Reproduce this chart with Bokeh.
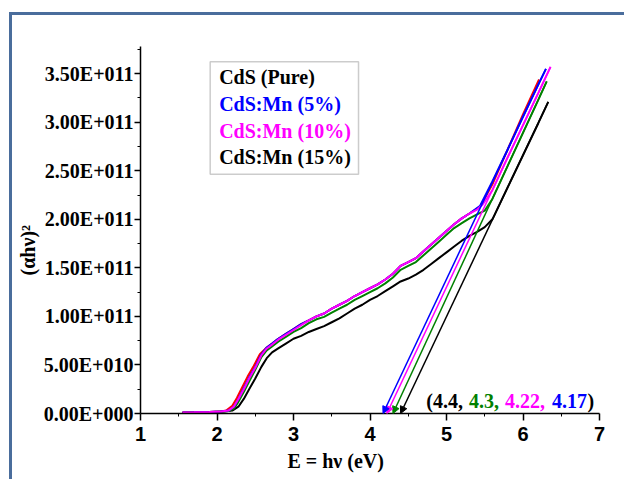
from bokeh.plotting import figure
from bokeh.models import (FixedTicker, Range1d, Label, BoxAnnotation, Arrow,
                          NormalHead, ColumnDataSource, Title)
from bokeh.embed import file_html
from bokeh.resources import INLINE

# ---------------- data (values in units of 1e11) ----------------
E_mag = [1.55, 1.7, 1.9, 2.05, 2.15, 2.22, 2.28, 2.35, 2.42, 2.5, 2.58, 2.65, 2.72, 2.8, 2.9,
         3.0, 3.1, 3.2, 3.3, 3.4, 3.5, 3.6, 3.7, 3.8, 3.9, 4.0, 4.1, 4.2, 4.3, 4.4, 4.5,
         4.6, 4.7, 4.8, 4.9, 5.0, 5.1, 5.2, 5.3, 5.4, 5.47, 5.6, 5.8, 6.0, 6.2, 6.36]
v_mag = [0.01, 0.012, 0.015, 0.02, 0.03, 0.07, 0.15, 0.25, 0.36, 0.47, 0.60, 0.67, 0.71, 0.76, 0.81,
         0.86, 0.91, 0.96, 1.00, 1.03, 1.08, 1.12, 1.16, 1.21, 1.25, 1.29, 1.33, 1.38, 1.44, 1.52, 1.56,
         1.60, 1.67, 1.74, 1.81, 1.88, 1.95, 2.01, 2.06, 2.10, 2.15, 2.30, 2.64, 2.97, 3.30, 3.57]

E_blue = [1.55, 1.7, 1.9, 2.05, 2.15, 2.22, 2.28, 2.35, 2.42, 2.5, 2.58, 2.65, 2.72, 2.8, 2.9,
          3.0, 3.1, 3.2, 3.3, 3.4, 3.5, 3.6, 3.7, 3.8, 3.9, 4.0, 4.1, 4.2, 4.3, 4.4, 4.5,
          4.6, 4.7, 4.8, 4.9, 5.0, 5.1, 5.2, 5.3, 5.44, 5.6, 5.8, 6.0, 6.2, 6.30]
v_blue = [0.01, 0.012, 0.015, 0.02, 0.03, 0.07, 0.15, 0.26, 0.37, 0.48, 0.61, 0.68, 0.72, 0.77, 0.82,
          0.87, 0.92, 0.96, 1.00, 1.03, 1.08, 1.12, 1.16, 1.21, 1.25, 1.29, 1.33, 1.38, 1.44, 1.52, 1.56,
          1.60, 1.67, 1.74, 1.81, 1.88, 1.95, 2.01, 2.06, 2.14, 2.39, 2.72, 3.06, 3.39, 3.55]

E_red = [1.55, 1.7, 1.9, 2.05, 2.12, 2.2, 2.26, 2.33, 2.4, 2.48, 2.56, 2.65, 2.72, 2.8, 2.9,
         3.0, 3.1, 3.2, 3.3, 3.4, 3.5, 3.6, 3.7, 3.8, 3.9, 4.0, 4.1, 4.2, 4.3, 4.4, 4.5,
         4.6, 4.7, 4.8, 4.9, 5.0, 5.1, 5.2, 5.3, 5.44, 5.6, 5.8, 6.0, 6.21]
v_red = [0.01, 0.012, 0.015, 0.02, 0.03, 0.08, 0.16, 0.27, 0.38, 0.49, 0.61, 0.68, 0.72, 0.77, 0.82,
         0.87, 0.92, 0.96, 1.00, 1.03, 1.08, 1.12, 1.16, 1.21, 1.25, 1.29, 1.33, 1.38, 1.44, 1.52, 1.56,
         1.60, 1.67, 1.74, 1.81, 1.88, 1.95, 2.01, 2.06, 2.13, 2.36, 2.72, 3.08, 3.44]

E_green = [1.55, 1.7, 1.9, 2.05, 2.15, 2.22, 2.28, 2.35, 2.42, 2.5, 2.58, 2.65, 2.72, 2.8, 2.9,
           3.0, 3.1, 3.2, 3.3, 3.4, 3.5, 3.6, 3.7, 3.8, 3.9, 4.0, 4.1, 4.2, 4.3, 4.4, 4.5,
           4.6, 4.7, 4.8, 4.9, 5.0, 5.1, 5.2, 5.3, 5.4, 5.5, 5.6, 5.8, 6.0, 6.2, 6.31]
v_green = [0.01, 0.012, 0.015, 0.02, 0.025, 0.05, 0.12, 0.22, 0.33, 0.45, 0.58, 0.65, 0.69, 0.74, 0.79,
           0.84, 0.88, 0.93, 0.97, 0.995, 1.04, 1.08, 1.12, 1.17, 1.21, 1.25, 1.29, 1.34, 1.40, 1.48, 1.52,
           1.56, 1.63, 1.70, 1.77, 1.84, 1.91, 1.96, 2.01, 2.05, 2.09, 2.21, 2.55, 2.89, 3.23, 3.42]

E_black = [1.55, 1.9, 2.1, 2.2, 2.28, 2.35, 2.42, 2.5, 2.58, 2.65, 2.72, 2.8, 2.9,
           3.0, 3.1, 3.2, 3.3, 3.4, 3.5, 3.6, 3.7, 3.8, 3.9, 4.0, 4.1, 4.2, 4.3, 4.4, 4.5,
           4.6, 4.7, 4.8, 4.9, 5.0, 5.1, 5.2, 5.3, 5.4, 5.5, 5.6, 5.8, 6.0, 6.2, 6.33]
v_black = [0.008, 0.012, 0.02, 0.03, 0.07, 0.15, 0.25, 0.36, 0.48, 0.57, 0.63, 0.67, 0.72,
           0.77, 0.80, 0.84, 0.87, 0.90, 0.94, 0.98, 1.03, 1.08, 1.12, 1.17, 1.21, 1.26, 1.31, 1.36, 1.39,
           1.43, 1.48, 1.54, 1.60, 1.66, 1.72, 1.78, 1.83, 1.87, 1.92, 2.00, 2.33, 2.66, 2.99, 3.21]

# linear fits: band-gap intercepts and upper ends
fit_intercepts = [4.4, 4.3, 4.22, 4.17]
fit_end_E = [6.33, 6.31, 6.36, 6.30]
fit_end_v = [3.21, 3.42, 3.57, 3.55]
fit_colors = ["black", "#008000", "#FF00FF", "#0000FF"]

legend_labels = ["CdS (Pure)", "CdS:Mn (5%)", "CdS:Mn (10%)", "CdS:Mn (15%)"]
legend_colors = ["black", "#0000FF", "#FF00FF", "black"]

gap_texts = ["(4.4,", "4.3,", "4.22,", "4.17", ")"]
gap_colors = ["black", "#008000", "#FF00FF", "#0000FF", "black"]

x_ticks = [1, 2, 3, 4, 5, 6, 7]
x_tick_labels = ["1", "2", "3", "4", "5", "6", "7"]
y_ticks = [0, 50000000000, 100000000000, 150000000000, 200000000000,
           250000000000, 300000000000, 350000000000]
y_tick_labels = ["0.00E+000", "5.00E+010", "1.00E+011", "1.50E+011", "2.00E+011",
                 "2.50E+011", "3.00E+011", "3.50E+011"]

SCALE = 1e11
SERIF = "Liberation Serif"
SANS = "Liberation Sans"
FRAME = "#4a6d9c"

p = figure(width=615, height=467, x_range=Range1d(1, 7), y_range=Range1d(0, 3.78e11),
           output_backend="svg", toolbar_location=None,
           min_border_left=126, min_border_right=28, min_border_top=31, min_border_bottom=69)
p.margin = (12, 0, 0, 9)
p.styles = {"border-top": "3px solid " + FRAME, "border-left": "3px solid " + FRAME}
p.outline_line_color = None
p.grid.visible = False
p.background_fill_color = "white"
p.border_fill_color = "white"

# axes
xa = p.xaxis[0]
xa.ticker = FixedTicker(ticks=x_ticks, minor_ticks=[t + 0.5 for t in x_ticks[:-1]])
xa.major_label_overrides = {t: l for t, l in zip(x_ticks, x_tick_labels)}
xa.major_tick_in = 0
xa.major_tick_out = 7
xa.minor_tick_in = 0
xa.minor_tick_out = 3
xa.axis_line_width = 1.5
xa.major_tick_line_width = 1.5
xa.major_label_text_font = SANS
xa.major_label_text_font_style = "bold"
xa.major_label_text_font_size = "20px"
xa.major_label_text_color = "black"
xa.major_label_standoff = 6

ya = p.yaxis[0]
ya.ticker = FixedTicker(ticks=y_ticks, minor_ticks=[t + 25000000000 for t in y_ticks])
ya.major_label_overrides = {t: l for t, l in zip(y_ticks, y_tick_labels)}
ya.major_tick_in = 0
ya.major_tick_out = 6
ya.minor_tick_in = 0
ya.minor_tick_out = 3
ya.axis_line_width = 1.5
ya.major_tick_line_width = 1.5
ya.major_label_text_font = SERIF
ya.major_label_text_font_style = "bold"
ya.major_label_text_font_size = "20px"
ya.major_label_text_color = "black"
ya.major_label_standoff = 1

# axis titles (as offset titles so they sit where the original puts them)
p.add_layout(Title(text="E = hν (eV)", align="left", offset=147, standoff=8,
                   text_font=SERIF, text_font_style="bold", text_font_size="20px",
                   text_color="black"), "below")
p.add_layout(Title(text="(αhν)²", align="left", offset=138, standoff=4,
                   text_font=SERIF, text_font_style="bold", text_font_size="20px",
                   text_color="black"), "left")

# curves
series = [(E_black, v_black, "black"), (E_green, v_green, "#008000"),
          (E_red, v_red, "#FF0000"), (E_blue, v_blue, "#0000FF"),
          (E_mag, v_mag, "#FF00FF")]
for E, v, c in series:
    src = ColumnDataSource(dict(x=E, y=[val * SCALE for val in v]))
    p.line("x", "y", source=src, line_color=c, line_width=2)

# fit lines with arrow heads at the intercepts
for e0, ee, ve, c in zip(fit_intercepts, fit_end_E, fit_end_v, fit_colors):
    p.add_layout(Arrow(end=NormalHead(size=7, fill_color=c, line_color=c),
                       x_start=ee, y_start=ve * SCALE, x_end=e0, y_end=0,
                       line_color=c, line_width=1.5))

# legend box with coloured texts
p.add_layout(BoxAnnotation(left=1.911, right=3.85, top=3.624e11, bottom=2.464e11,
                           fill_color="white", fill_alpha=1, line_color="#555555",
                           line_width=1.5))
legend_y = [3.47e11, 3.183e11, 2.906e11, 2.639e11]
for txt, c, yy in zip(legend_labels, legend_colors, legend_y):
    p.add_layout(Label(x=2.028, y=yy, text=txt, text_color=c, text_font=SERIF,
                       text_font_style="bold", text_font_size="20px",
                       text_align="left", text_baseline="middle"))

# band gap annotation
gap_x = [4.735, 5.295, 5.764, 6.38, 6.844]
for txt, c, xx in zip(gap_texts, gap_colors, gap_x):
    p.add_layout(Label(x=xx, y=0.133e11, text=txt, text_color=c, text_font=SERIF,
                       text_font_style="bold", text_font_size="20px",
                       text_align="left", text_baseline="middle"))

open("out.html", "w").write(file_html(p, INLINE))
